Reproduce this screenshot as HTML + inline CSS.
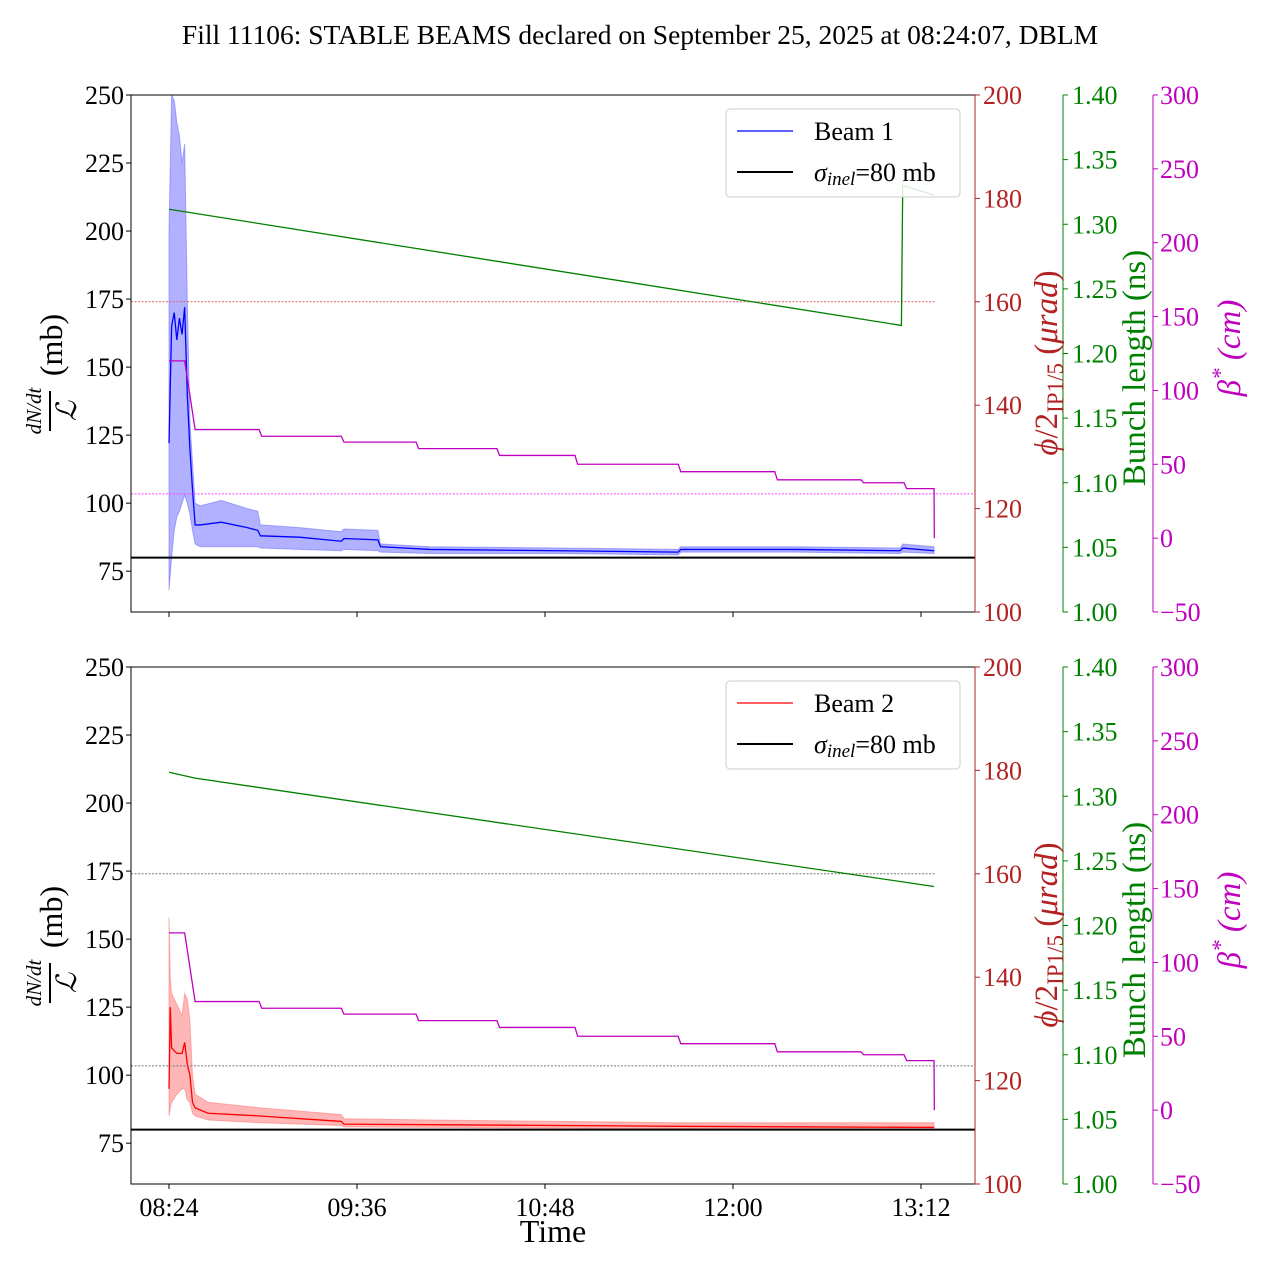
<!DOCTYPE html>
<html><head><meta charset="utf-8"><style>
body{margin:0;background:#fff}
svg{display:block}
text{font-family:"Liberation Serif",serif}
</style></head><body>
<svg id="fig" width="1280" height="1280" xmlns="http://www.w3.org/2000/svg">
<text x="640" y="44" font-size="27.5" text-anchor="middle">Fill 11106: STABLE BEAMS declared on September 25, 2025 at 08:24:07, DBLM</text>
</svg>
<script>
// minutes relative to 08:24
const xTickLabels=["08:24","09:36","10:48","12:00","13:12"];
const xTickMinutes=[0,72,144,216,288];
const leftTicks=[75,100,125,150,175,200,225,250];
const redTicks=[100,120,140,160,180,200];
const greenTicks=[1.00,1.05,1.10,1.15,1.20,1.25,1.30,1.35,1.40];
const betaTicks=[-50,0,50,100,150,200,250,300];
const b1Time=[0,1,2,3,4,5,6,7,8,9,10,12,20,30,34,35,50,66,67,80,81,100,150,195,196,240,280,281,293];
const b1Mean=[122,165,170,160,168,162,172,140,120,105,92,92,93,91,90,88,87.5,86,87,86.5,84,83,82.5,82,83,83,82.5,83.5,82.5];
const b1Low=[68,80,90,95,97,100,103,100,96,90,85,84,84,84,84,83.5,83,82.5,83,82.5,82,81.5,81.5,81,82,82,81.5,82,81.5];
const b1High=[200,250,248,240,235,225,232,175,130,115,100,99,101,98,97,92,91,89.5,90.5,90,85,84,83.5,83,84,84,83.5,85,84];
const b2Time=[0,0.5,1,3,5,6,7,8,9,10,15,35,66,67,100,150,195,293];
const b2Mean=[95,125,110,108,108,112,104,100,90,88,86,85,83,82,81.8,81.5,81.2,80.8];
const b2Low=[85,88,90,93,95,95,91,90,86,85,83.5,82.5,81.5,81,80.8,80.5,80.3,80];
const b2High=[158,135,130,126,122,130,128,120,100,93,90,88,85.5,84,83.5,83,82.5,82.5];
const betaTime=[0,6,10,34.5,35.5,66,67,94.6,95.6,125.6,126.6,155.5,156.5,195,196,232,233,265,266,281.5,282.5,293,293.1];
const betaVal=[120,120,73.5,73.5,69,69,65,65,60.6,60.6,56,56,50,50,45,45,39.5,39.5,37.5,37.5,33.5,33.5,0];
const blen1Time=[0,280.5,281,293];
const blen1Val=[1.3116,1.2217,1.330,1.3225];
const blen2Time=[0,10,293];
const blen2Val=[1.3186,1.3140,1.2302];
const crossingRef=160, betaRef=30, sigmaInel=80;

const NS="http://www.w3.org/2000/svg";
const svg=document.getElementById('fig');
function el(tag,attrs,parent){const e=document.createElementNS(NS,tag);for(const k in attrs)e.setAttribute(k,attrs[k]);(parent||svg).appendChild(e);return e;}
const X0=131,X1=975;
const TF=26;
function xs(t){return 169+t*188/72;}
function panel(top,beam,times,mean,lo,hi,color,fill,bl,blt,refColorRed,refColorMag,showX){
  const bot=top+517;
  const yL=v=>bot-(v-60)/190*517;
  const yR=v=>bot-(v-100)/100*517;
  const yG=v=>bot-(v-1.0)/0.4*517;
  const yB=v=>bot-(v+50)/350*517;
  const g=el('g',{});
  
  
  let d='M'+times.map((t,i)=>xs(t)+','+yL(hi[i])).join('L')+'L'+times.slice().reverse().map((t,i)=>xs(t)+','+yL(lo[times.length-1-i])).join('L')+'Z';
  const band=el('path',{d:d,fill:fill,stroke:fill,'stroke-width':1},g);
  
  
  const line=el('polyline',{points:times.map((t,i)=>xs(t)+','+yL(mean[i])).join(' '),fill:'none',stroke:color,'stroke-width':1.3},g);
  
  
  const sl=el('line',{x1:X0,x2:X1,y1:yL(sigmaInel),y2:yL(sigmaInel),stroke:'#000','stroke-width':2},g);
  
  
  const rl=el('line',{x1:X0,x2:935,y1:yR(crossingRef),y2:yR(crossingRef),stroke:refColorRed,'stroke-width':1,'stroke-dasharray':'2,1.5'},g);
  
  
  const ml=el('line',{x1:X0,x2:X1,y1:yB(betaRef),y2:yB(betaRef),stroke:refColorMag,'stroke-width':1,'stroke-dasharray':'2,1.5'},g);
  
  
  const gl=el('polyline',{points:blt.map((t,i)=>xs(t)+','+yG(bl[i])).join(' '),fill:'none',stroke:'#008000','stroke-width':1.3},g);
  
  
  const bt=el('polyline',{points:betaTime.map((t,i)=>xs(t)+','+yB(betaVal[i])).join(' '),fill:'none',stroke:'#bf00bf','stroke-width':1.3},g);
  
  
  const fr=el('rect',{x:X0,y:top,width:X1-X0,height:517,fill:'none',stroke:'#000','stroke-width':1},g);
  
  
  leftTicks.forEach(v=>{const y=yL(v);el('line',{x1:X0-5,x2:X0,y1:y,y2:y,stroke:'#000'},g);
    const t=el('text',{x:X0-7,y:y+9,'font-size':TF,'text-anchor':'end'},g);t.textContent=v;
    });
  redTicks.forEach(v=>{const y=yR(v);el('line',{x1:X1,x2:X1+5,y1:y,y2:y,stroke:'#b22222'},g);
    const t=el('text',{x:X1+8,y:y+9,'font-size':TF,fill:'#b22222'},g);t.textContent=v;
    });
  el('line',{x1:X1,x2:X1,y1:top,y2:bot,stroke:'#b22222'},g);
  el('line',{x1:1063,x2:1063,y1:top,y2:bot,stroke:'#008000'},g);
  greenTicks.forEach(v=>{const y=yG(v);el('line',{x1:1063,x2:1068,y1:y,y2:y,stroke:'#008000'},g);
    const t=el('text',{x:1072,y:y+9,'font-size':TF,fill:'#008000'},g);t.textContent=v.toFixed(2);
    });
  el('line',{x1:1153,x2:1153,y1:top,y2:bot,stroke:'#bf00bf'},g);
  betaTicks.forEach(v=>{const y=yB(v);el('line',{x1:1153,x2:1158,y1:y,y2:y,stroke:'#bf00bf'},g);
    const t=el('text',{x:1160,y:y+9,'font-size':TF,fill:'#bf00bf'},g);t.textContent=(v<0?'\u2212'+(-v):v);
    });
  xTickMinutes.forEach((m,i)=>{const x=xs(m);el('line',{x1:x,x2:x,y1:bot,y2:bot+5,stroke:'#000'},g);
    if(showX){const t=el('text',{x:x,y:bot+32,'font-size':TF,'text-anchor':'middle'},g);t.textContent=xTickLabels[i];
      }});
  const cy=top+258;
  const lt=el('g',{transform:`translate(62,${cy}) rotate(-90)`},g);
  
  lt.innerHTML=`<text x="-58" y="-21" font-size="21" font-style="italic" text-anchor="middle">dN/dt</text><line x1="-78" x2="-38" y1="-12" y2="-12" stroke="#000" stroke-width="2"/><text x="-58" y="14" font-size="28" font-style="italic" text-anchor="middle">ℒ</text><text x="8" y="0" font-size="32" text-anchor="middle">(mb)</text>`;
  const rt=el('text',{transform:`translate(1057,${cy+10}) rotate(-90)`,'font-size':33,fill:'#b22222','text-anchor':'middle'},g);
  rt.innerHTML='<tspan font-style="italic">ϕ</tspan>/2<tspan font-size="23" dy="6">IP1/5</tspan><tspan dy="-6"> (</tspan><tspan font-style="italic">μrad</tspan>)';
  
  const gt=el('text',{transform:`translate(1145,${cy+15}) rotate(-90)`,'font-size':33,fill:'#008000','text-anchor':'middle'},g);
  gt.textContent='Bunch length (ns)';
  
  const mt=el('text',{transform:`translate(1240,${cy-5}) rotate(-90)`,'font-size':33,fill:'#bf00bf','text-anchor':'middle','font-style':'italic'},g);
  mt.innerHTML='β<tspan font-size="23" dy="-12">*</tspan><tspan dy="12"> (cm)</tspan>';
  
  const lg=el('g',{},g);
  
  lg.innerHTML=`<rect x="726" y="${top+14}" width="234" height="88" rx="4" fill="#fff" fill-opacity="0.85" stroke="#ccc"/>
  <line x1="737" x2="793" y1="${top+36}" y2="${top+36}" stroke="${color}" stroke-width="1.3"/>
  <text x="814" y="${top+45}" font-size="26">Beam ${beam}</text>
  <line x1="737" x2="793" y1="${top+77}" y2="${top+77}" stroke="#000" stroke-width="2"/>
  <text x="814" y="${top+86}" font-size="26"><tspan font-style="italic">σ</tspan><tspan font-style="italic" font-size="19" dy="4">inel</tspan><tspan dy="-4">=80 mb</tspan></text>`;
}
panel(95,1,b1Time,b1Mean,b1Low,b1High,'#0000ff','rgba(100,100,255,0.5)',blen1Val,blen1Time,'#e06060','#ff40ff',false);
panel(667,2,b2Time,b2Mean,b2Low,b2High,'#ff0000','rgba(255,110,110,0.5)',blen2Val,blen2Time,'#777','#777',true);
const xt=el('text',{x:553,y:1242,'font-size':32,'text-anchor':'middle'});
xt.textContent='Time';


</script>
</body></html>
